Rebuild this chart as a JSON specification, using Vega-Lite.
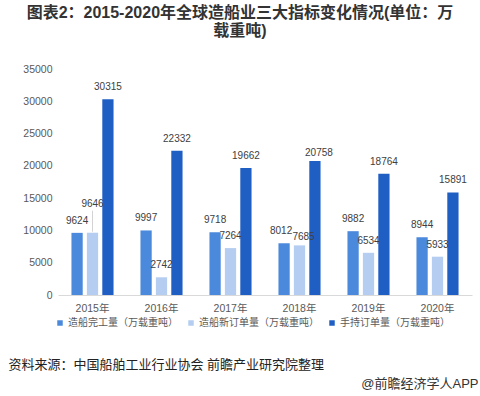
{
  "$schema": "https://vega.github.io/schema/vega-lite/v6.json",
  "autosize": "none",
  "width": 414,
  "height": 226,
  "padding": {"left": 58, "top": 69, "right": 8, "bottom": 101},
  "background": "white",
  "config": {
    "view": {"stroke": null},
    "font": "Liberation Sans, Noto Sans CJK SC"
  },
  "title": {
    "text": ["图表2：2015-2020年全球造船业三大指标变化情况(单位：万", "载重吨)"],
    "font": "Liberation Sans, Noto Sans CJK SC",
    "fontSize": 16,
    "fontWeight": "bold",
    "color": "#333333",
    "anchor": "middle",
    "frame": "group",
    "dx": -25,
    "offset": 25,
    "lineHeight": 18
  },
  "data": {
    "values": [
      {"year": "2015年", "series": "造船完工量（万载重吨）", "value": 9624},
      {"year": "2015年", "series": "造船新订单量（万载重吨）", "value": 9646},
      {"year": "2015年", "series": "手持订单量（万载重吨）", "value": 30315},
      {"year": "2016年", "series": "造船完工量（万载重吨）", "value": 9997},
      {"year": "2016年", "series": "造船新订单量（万载重吨）", "value": 2742},
      {"year": "2016年", "series": "手持订单量（万载重吨）", "value": 22332},
      {"year": "2017年", "series": "造船完工量（万载重吨）", "value": 9718},
      {"year": "2017年", "series": "造船新订单量（万载重吨）", "value": 7264},
      {"year": "2017年", "series": "手持订单量（万载重吨）", "value": 19662},
      {"year": "2018年", "series": "造船完工量（万载重吨）", "value": 8012},
      {"year": "2018年", "series": "造船新订单量（万载重吨）", "value": 7685},
      {"year": "2018年", "series": "手持订单量（万载重吨）", "value": 20758},
      {"year": "2019年", "series": "造船完工量（万载重吨）", "value": 9882},
      {"year": "2019年", "series": "造船新订单量（万载重吨）", "value": 6534},
      {"year": "2019年", "series": "手持订单量（万载重吨）", "value": 18764},
      {"year": "2020年", "series": "造船完工量（万载重吨）", "value": 8944},
      {"year": "2020年", "series": "造船新订单量（万载重吨）", "value": 5933},
      {"year": "2020年", "series": "手持订单量（万载重吨）", "value": 15891}
    ]
  },
  "encoding": {
    "x": {
      "field": "year",
      "type": "nominal",
      "scale": {"paddingInner": 0.39, "paddingOuter": 0.195},
      "axis": {
        "labelAngle": 0,
        "labelFontSize": 10.5,
        "labelColor": "#595959",
        "labelPadding": 8,
        "ticks": false,
        "domainColor": "#d9d9d9",
        "title": "资料来源：中国船舶工业行业协会 前瞻产业研究院整理",
        "titleFontSize": 13,
        "titleFontWeight": "normal",
        "titleColor": "#222222",
        "titleAlign": "left",
        "titleAnchor": "start",
        "titleBaseline": "alphabetic",
        "titleX": -50,
        "titleY": 73
      }
    },
    "xOffset": {
      "field": "series",
      "type": "nominal",
      "sort": ["造船完工量（万载重吨）", "造船新订单量（万载重吨）", "手持订单量（万载重吨）"],
      "scale": {"paddingInner": 0.27, "paddingOuter": 0}
    },
    "y": {
      "field": "value",
      "type": "quantitative",
      "scale": {"domain": [0, 35000]},
      "axis": {
        "values": [0, 5000, 10000, 15000, 20000, 25000, 30000, 35000],
        "format": "d",
        "grid": false,
        "domain": false,
        "ticks": false,
        "labelFontSize": 10.5,
        "labelColor": "#595959",
        "labelPadding": 6,
        "title": "@前瞻经济学人APP",
        "titleAngle": 0,
        "titleFontSize": 13,
        "titleFontWeight": "normal",
        "titleColor": "#333333",
        "titleAlign": "right",
        "titleBaseline": "alphabetic",
        "titleX": 420,
        "titleY": 318
      }
    }
  },
  "layer": [
    {
      "mark": {"type": "bar"},
      "encoding": {
        "color": {
          "field": "series",
          "type": "nominal",
          "scale": {
            "domain": ["造船完工量（万载重吨）", "造船新订单量（万载重吨）", "手持订单量（万载重吨）"],
            "range": ["#4b89dc", "#b4cdf0", "#1f5fc4"]
          },
          "legend": {
            "title": null,
            "orient": "none",
            "direction": "horizontal",
            "legendX": -3,
            "legendY": 249,
            "symbolType": "square",
            "symbolSize": 30,
            "labelFontSize": 10,
            "labelColor": "#595959",
            "labelOffset": 3,
            "columnPadding": 8
          }
        }
      }
    },
    {
      "transform": [
        {"filter": "!(datum.year == '2015年' && datum.series == '造船新订单量（万载重吨）') && datum.year != '2018年'"}
      ],
      "mark": {"type": "text", "baseline": "bottom", "dy": -7, "fontSize": 10, "color": "#404040"},
      "encoding": {
        "text": {"field": "value", "type": "quantitative", "format": "d"}
      }
    },
    {
      "transform": [
        {"filter": "datum.year == '2018年' && datum.series == '造船完工量（万载重吨）'"}
      ],
      "mark": {"type": "text", "baseline": "bottom", "dy": -7, "dx": -3, "fontSize": 10, "color": "#404040"},
      "encoding": {
        "text": {"field": "value", "type": "quantitative", "format": "d"}
      }
    },
    {
      "transform": [
        {"filter": "datum.year == '2018年' && datum.series != '造船完工量（万载重吨）'"}
      ],
      "mark": {"type": "text", "baseline": "bottom", "dy": -3, "dx": 4, "fontSize": 10, "color": "#404040"},
      "encoding": {
        "text": {"field": "value", "type": "quantitative", "format": "d"}
      }
    },
    {
      "transform": [
        {"filter": "datum.year == '2015年' && datum.series == '造船新订单量（万载重吨）'"}
      ],
      "mark": {"type": "rule", "color": "#c8c8c8", "strokeWidth": 0.8, "yOffset": -22, "y2Offset": -1},
      "encoding": {
        "y2": {"field": "value"}
      }
    },
    {
      "transform": [
        {"filter": "datum.year == '2015年' && datum.series == '造船新订单量（万载重吨）'"}
      ],
      "mark": {"type": "text", "baseline": "bottom", "dy": -24, "fontSize": 10, "color": "#404040"},
      "encoding": {
        "text": {"field": "value", "type": "quantitative", "format": "d"}
      }
    }
  ]
}
